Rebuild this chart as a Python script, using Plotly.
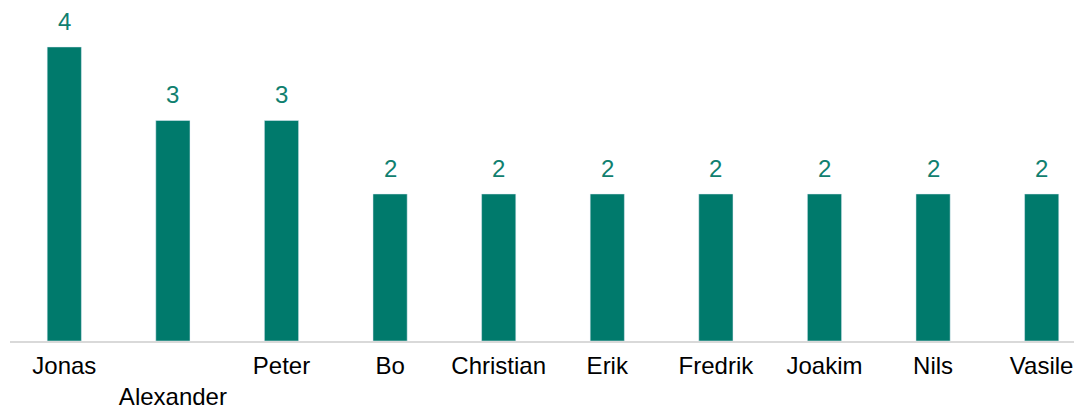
import plotly.graph_objs as go

names = ['Jonas', 'Alexander', 'Peter', 'Bo', 'Christian', 'Erik',
         'Fredrik', 'Joakim', 'Nils', 'Vasile']
counts = [4, 3, 3, 2, 2, 2, 2, 2, 2, 2]
tick_labels = ['Jonas', '<br>Alexander', 'Peter', 'Bo', 'Christian', 'Erik',
               'Fredrik', 'Joakim', 'Nils', 'Vasile']

bar_color = '#007A6C'
label_color = '#10806F'

trace = go.Bar(x=names, y=counts, marker={'color': bar_color},
               width=0.315, hoverinfo='x+y')

annotations = []
for name, count in zip(names, counts):
    annotations.append(dict(x=name, y=count, text=str(count), showarrow=False,
                            xanchor='center', yanchor='bottom', yshift=10,
                            font={'size': 24, 'color': label_color}))

# page body has an 8px margin, so the figure is nudged up/left to compensate
layout = go.Layout(
    width=1082, height=405,
    margin={'l': 2, 'r': 0, 't': 0, 'b': 72},
    paper_bgcolor='white', plot_bgcolor='white',
    font={'family': 'Liberation Sans, Arial, sans-serif', 'size': 24, 'color': '#000000'},
    showlegend=False,
    xaxis={'tickmode': 'array', 'tickvals': names, 'ticktext': tick_labels,
           'range': [-0.5, 9.445], 'showline': True, 'linecolor': '#D9D9D9',
           'linewidth': 2, 'ticks': '', 'showgrid': False, 'zeroline': False,
           'ticklabelstandoff': 2,
           'tickfont': {'size': 24, 'color': '#000000'}, 'tickangle': 0},
    yaxis={'range': [0, 4.53], 'visible': False, 'showgrid': False,
           'zeroline': False},
    annotations=annotations,
)

fig = go.Figure(data=[trace], layout=layout)
fig.write_html("out.html")
